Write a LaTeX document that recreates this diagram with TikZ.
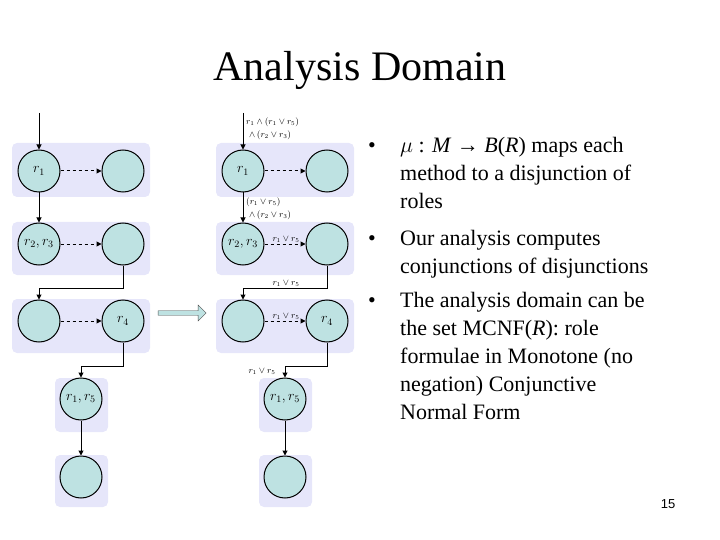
\documentclass[tikz,border=0pt]{standalone}
\usepackage{fontspec}
\usepackage{fix-cm}
\setmainfont{Liberation Serif}
\usetikzlibrary{shapes.arrows,arrows.meta}
\definecolor{panel}{RGB}{230,230,250}
\definecolor{cfill}{RGB}{190,226,226}
\begin{document}
\begin{tikzpicture}[x=1pt,y=-1pt,
  pan/.style={fill=panel,rounded corners=5pt,draw=none},
  st/.style={circle,draw=black,line width=1pt,fill=cfill,minimum size=42pt,inner sep=0pt,font=\fontsize{14}{14}\selectfont},
  ed/.style={line width=1pt,-{Triangle[length=5pt,width=5pt]}},
  de/.style={ed,dashed},
  lb/.style={font=\fontsize{9}{9}\selectfont,inner sep=1pt}]
\useasboundingbox (0,0) rectangle (720,540);
\node[font=\fontsize{42}{42}\selectfont] (title) at (360,70) {Analysis Domain};
\foreach \o/\p in {0/L,204/R}{
\begin{scope}[xshift=\o pt]
\fill[pan] (12,143) rectangle (150,197);
\fill[pan] (12,222) rectangle (150,275);
\fill[pan] (12,299) rectangle (150,353);
\fill[pan] (55,378) rectangle (108,432);
\fill[pan] (55,455) rectangle (108,507);
\node[st] (\p a1) at (39,171) {$r_1$};
\node[st] (\p a2) at (123,171) {};
\node[st] (\p b1) at (39,244) {$r_{2},r_{3}$};
\node[st] (\p b2) at (123,244) {};
\node[st] (\p c1) at (39,321) {};
\node[st] (\p c2) at (123,321) {\raisebox{-6pt}{$r_4$}};
\node[st] (\p d) at (81,399) {$r_{1},r_{5}$};
\node[st] (\p e) at (81,477) {};
\coordinate (\p in) at (39,113);
\coordinate (\p k1) at (123,288);
\coordinate (\p k2) at (39,288);
\coordinate (\p k3) at (123,366);
\coordinate (\p k4) at (81,366);
\draw[ed] (\p in) -- (\p a1);
\draw[de] (\p a1) -- (\p a2);
\draw[ed] (\p a1) -- (\p b1);
\draw[de] (\p b1) -- (\p b2);
\draw[ed] (\p b2.south) -- (\p k1) -- (\p k2) -- (\p c1);
\draw[de] (\p c1) -- (\p c2);
\draw[ed] (\p c2.south) -- (\p k3) -- (\p k4) -- (\p d);
\draw[ed] (\p d) -- (\p e);
\end{scope}}
\node[single arrow,draw=black!70,fill=cfill,minimum height=48pt,minimum width=16pt,single arrow head extend=3pt,inner sep=1pt] (tr) at (181,313) {};
\node[lb,anchor=west] (l1) at (245,122) {$r_1\wedge(r_1\vee r_5)$};
\node[lb,anchor=west] (l2) at (248,135) {$\wedge\,(r_2\vee r_3)$};
\node[lb,anchor=west] (l3) at (245,202) {$(r_1\vee r_5)$};
\node[lb,anchor=west] (l4) at (248,215) {$\wedge\,(r_2\vee r_3)$};
\node[lb] (l5) at (286,239) {$r_1\vee r_5$};
\node[lb] (l6) at (286,283) {$r_1\vee r_5$};
\node[lb] (l7) at (286,316) {$r_1\vee r_5$};
\node[lb] (l8) at (262,371) {$r_1\vee r_5$};
\begin{scope}[every node/.style={anchor=base west,font=\fontsize{22}{22}\selectfont,inner sep=0pt}]
\node (b1) at (368,153) {•};
\node (t1) at (400,153) {$\mu$ : \textit{M} → \textit{B}(\textit{R}) maps each};
\node (t2) at (400,181) {method to a disjunction of};
\node (t3) at (400,209) {roles};
\node (b2) at (368,245) {•};
\node (t4) at (400,245) {Our analysis computes};
\node (t5) at (400,273) {conjunctions of disjunctions};
\node (b3) at (368,307) {•};
\node (t6) at (400,307) {The analysis domain can be};
\node (t7) at (400,335) {the set MCNF(\textit{R}): role};
\node (t8) at (400,363) {formulae in Monotone (no};
\node (t9) at (400,391) {negation) Conjunctive};
\node (t10) at (400,419) {Normal Form};
\end{scope}
\node[font=\fontspec{Liberation Sans}\fontsize{13}{13}\selectfont] (pg) at (668,504) {15};
\end{tikzpicture}
\end{document}
